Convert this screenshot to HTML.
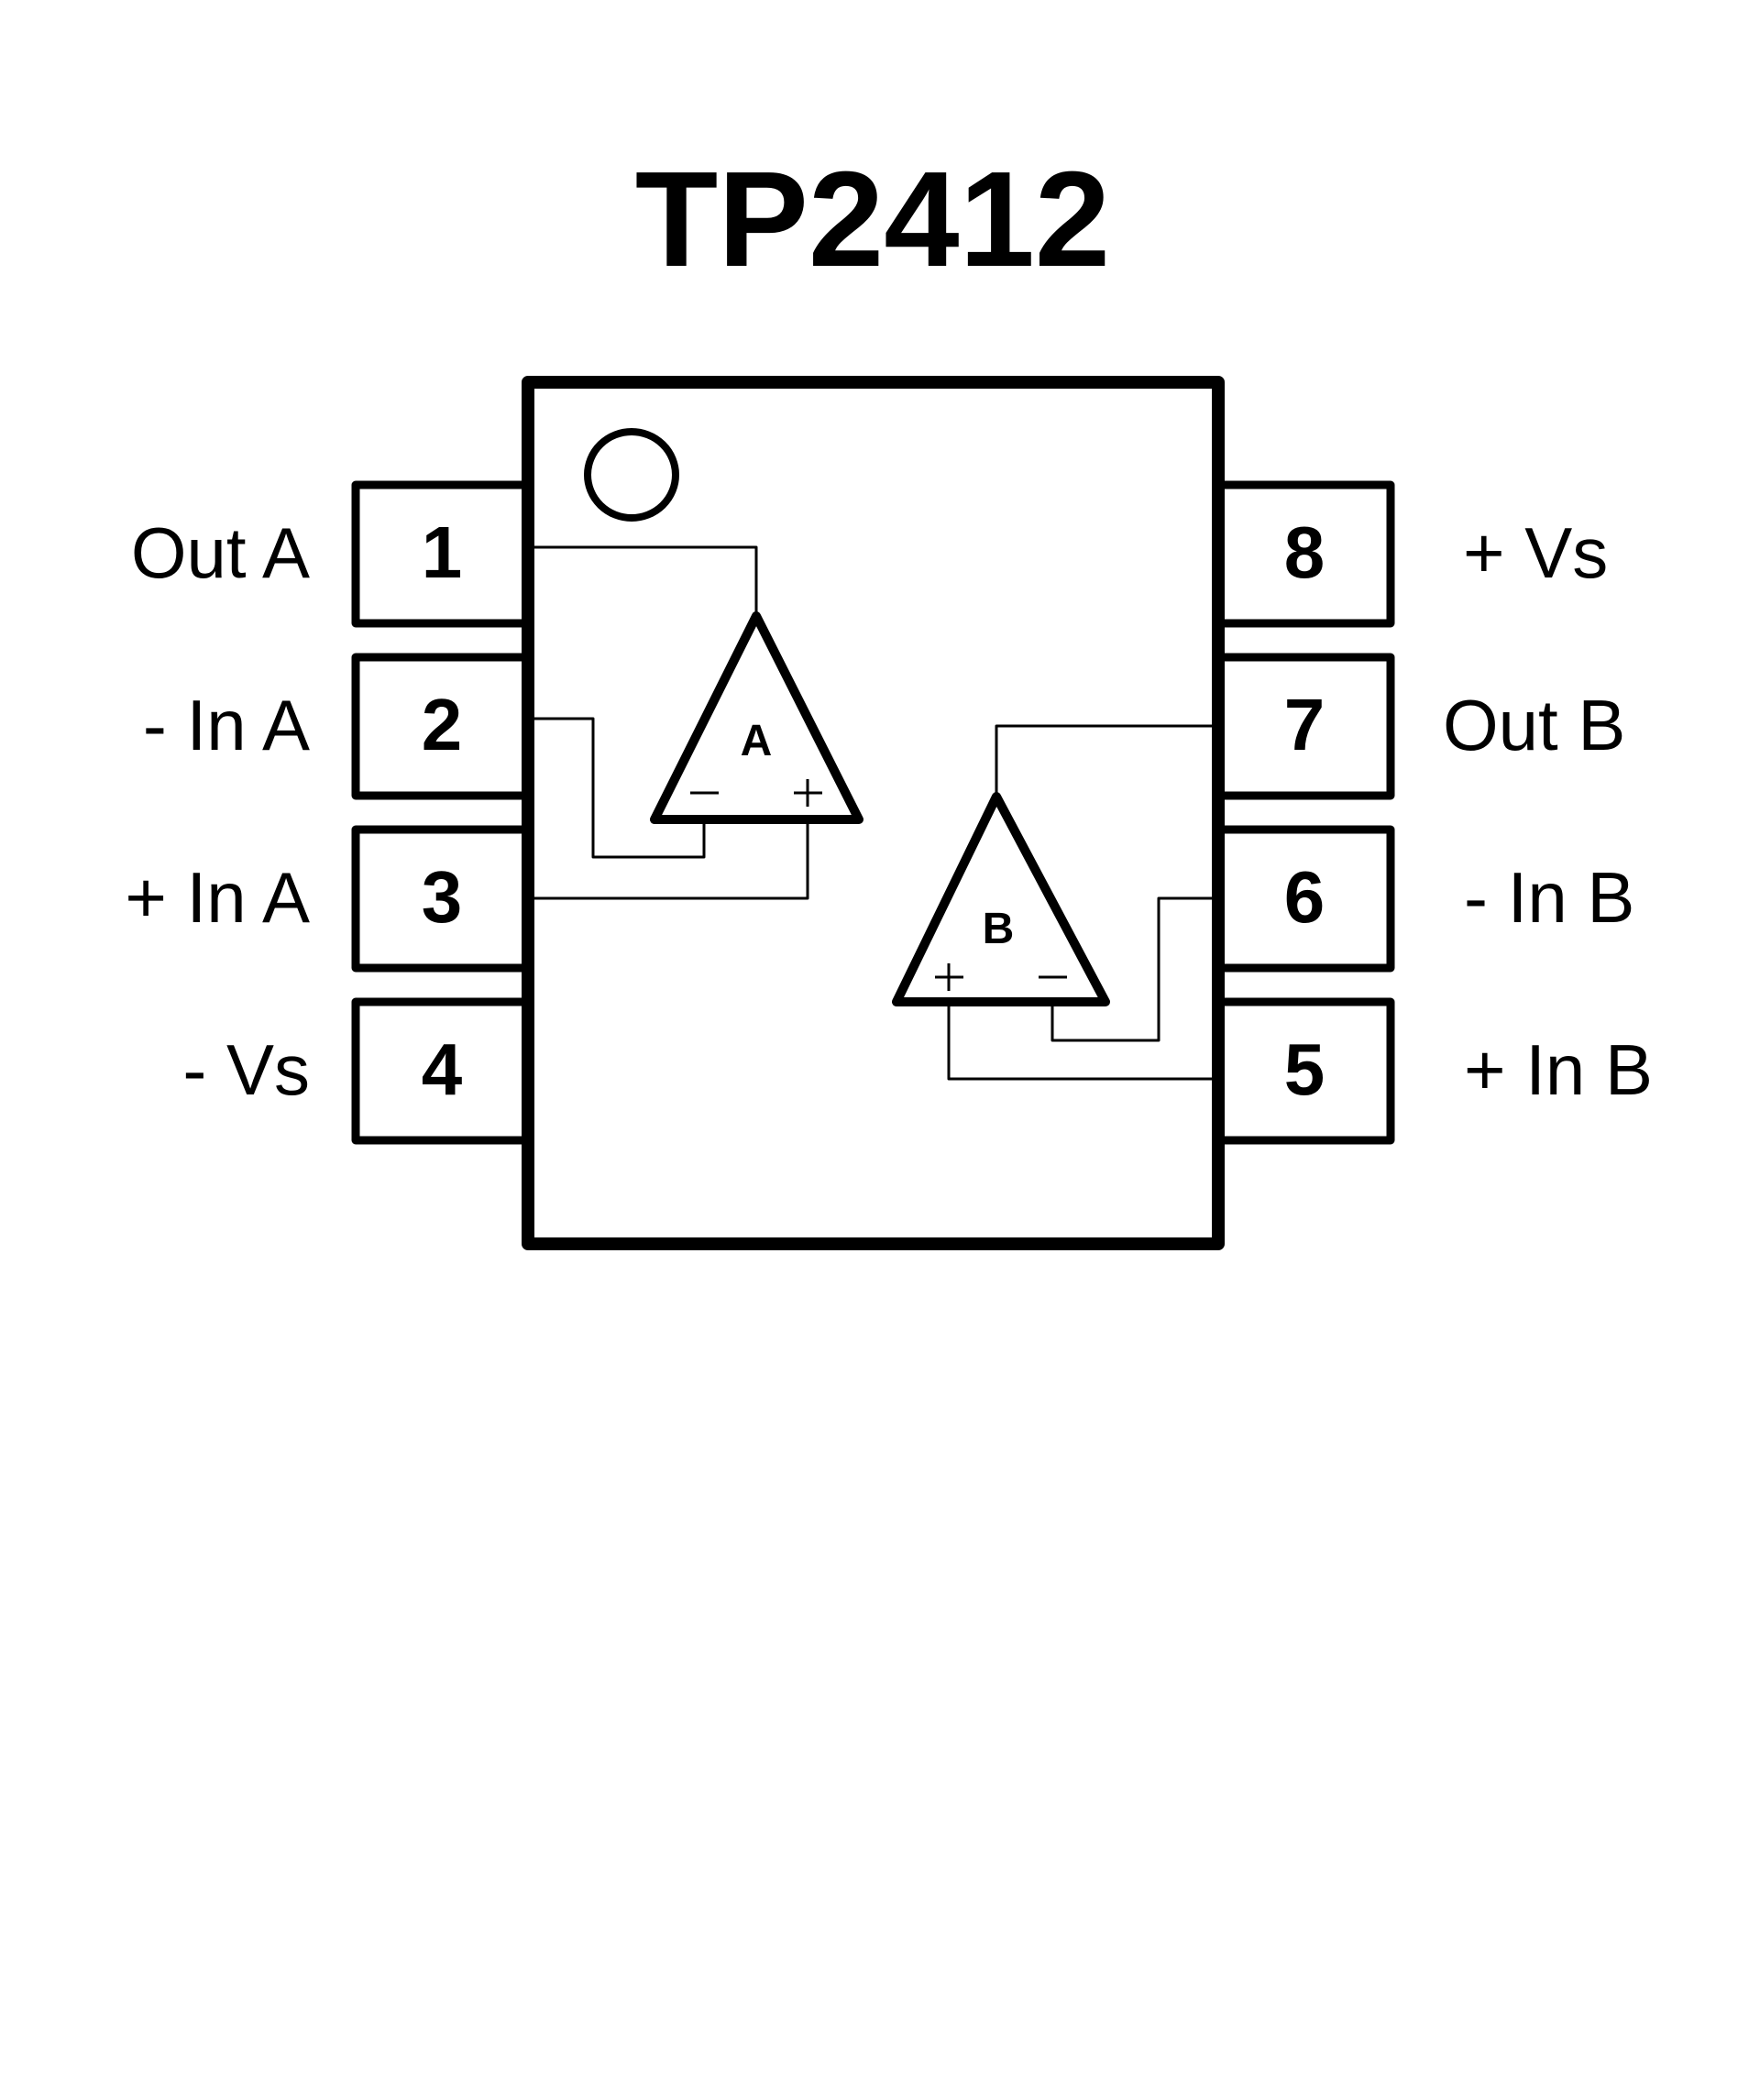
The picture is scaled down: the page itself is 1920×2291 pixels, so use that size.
<!DOCTYPE html>
<html><head><meta charset="utf-8"><style>
html,body{margin:0;padding:0;background:#fff;}
svg{display:block;}
</style></head><body>
<svg width="1920" height="2291" viewBox="0 0 1920 2291" xmlns="http://www.w3.org/2000/svg">
<rect width="1920" height="2291" fill="#fff"/>
<text x="952" y="290" text-anchor="middle" font-family="Liberation Sans, sans-serif" font-weight="bold" font-size="148">TP2412</text>
<g fill="none" stroke="#000" stroke-linejoin="round">
  <rect x="388" y="529" width="190" height="151" stroke-width="9"/>
  <rect x="388" y="717" width="190" height="151" stroke-width="9"/>
  <rect x="388" y="905" width="190" height="151" stroke-width="9"/>
  <rect x="388" y="1093" width="190" height="151" stroke-width="9"/>
  <rect x="1326" y="529" width="191" height="151" stroke-width="9"/>
  <rect x="1326" y="717" width="191" height="151" stroke-width="9"/>
  <rect x="1326" y="905" width="191" height="151" stroke-width="9"/>
  <rect x="1326" y="1093" width="191" height="151" stroke-width="9"/>
  <rect x="576" y="417" width="753" height="940" stroke-width="14" fill="#fff"/>
  <ellipse cx="689" cy="518" rx="48" ry="47" stroke-width="8"/>
  <g stroke-width="3">
    <polyline points="583,597 825,597 825,668"/>
    <polyline points="583,784 647,784 647,935 768,935 768,894"/>
    <polyline points="583,980 881,980 881,894"/>
    <polyline points="1322,792 1087,792 1087,865"/>
    <polyline points="1322,980 1264,980 1264,1135 1148,1135 1148,1093"/>
    <polyline points="1322,1177 1035,1177 1035,1093"/>
    <line x1="753" y1="865" x2="784" y2="865"/>
    <line x1="866" y1="865" x2="897" y2="865"/>
    <line x1="881" y1="850" x2="881" y2="880"/>
    <line x1="1020" y1="1066" x2="1051" y2="1066"/>
    <line x1="1035" y1="1051" x2="1035" y2="1081"/>
    <line x1="1133" y1="1066" x2="1164" y2="1066"/>
  </g>
  <polygon points="825,672 714,894 937,894" stroke-width="10"/>
  <polygon points="1087,869 978,1093 1206,1093" stroke-width="10"/>
</g>
<g font-family="Liberation Sans, sans-serif" font-weight="bold" text-anchor="middle">
  <text x="825" y="824" font-size="48">A</text>
  <text x="1089" y="1029" font-size="48">B</text>
  <g font-size="80">
    <text x="482" y="630">1</text>
    <text x="482" y="818">2</text>
    <text x="482" y="1006">3</text>
    <text x="482" y="1194">4</text>
    <text x="1423" y="630">8</text>
    <text x="1423" y="818">7</text>
    <text x="1423" y="1006">6</text>
    <text x="1423" y="1194">5</text>
  </g>
</g>
<g font-family="Liberation Sans, sans-serif" font-size="78">
  <text x="338" y="630" text-anchor="end">Out A</text>
  <text x="338" y="818" text-anchor="end">- In A</text>
  <text x="338" y="1006" text-anchor="end">+ In A</text>
  <text x="338" y="1194" text-anchor="end">- Vs</text>
  <text x="1596" y="630">+ Vs</text>
  <text x="1574" y="818">Out B</text>
  <text x="1597" y="1006">- In B</text>
  <text x="1597" y="1194">+ In B</text>
</g>
</svg>
</body></html>
